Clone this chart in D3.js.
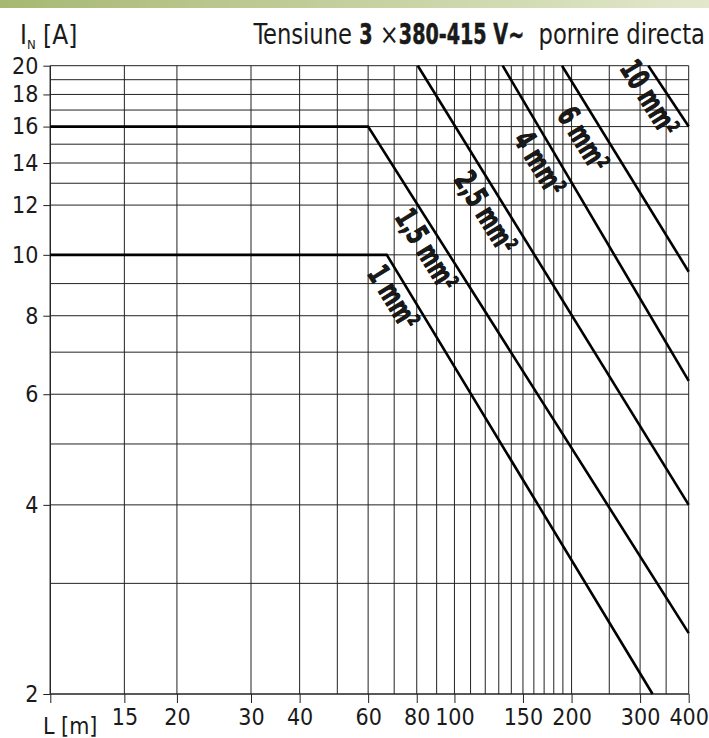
<!DOCTYPE html>
<html><head><meta charset="utf-8">
<script src="https://cdn.jsdelivr.net/npm/d3@7"></script>
<style>
html,body{margin:0;padding:0;background:#fff;}
svg{display:block;}
text{font-family:"DejaVu Sans Condensed","Liberation Sans Narrow","Liberation Sans",sans-serif;fill:#1a1a1a;}
</style></head><body>
<svg id="chart" width="709" height="738"></svg>
<script>
// Cable length L [m] on the x axis, rated current I_N [A] on the y axis (both logarithmic)
const xTickValues = [15, 20, 30, 40, 60, 80, 100, 150, 200, 300, 400];
const xGridValues = [10, 15, 20, 30, 40, 50, 60, 70, 80, 90, 100, 110, 120, 130, 140, 150, 160, 170, 180, 190, 200, 250, 300, 350, 400];
const yTickValues = [2, 4, 6, 8, 10, 12, 14, 16, 18, 20];
const yGridValues = [2, 3, 4, 5, 6, 7, 8, 9, 10, 12, 13, 14, 15, 16, 17, 18, 19, 20];

// Cross-sections and their limit curves as [L, I] points
const sectionNames = ["1 mm²", "1,5 mm²", "2,5 mm²", "4 mm²", "6 mm²", "10 mm²"];
const curve1mm = [[10, 10], [67, 10], [323, 2]];
const curve15mm = [[10, 16], [60, 16], [400, 2.5]];
const curve25mm = [[80.5, 20], [400, 4]];
const curve4mm = [[133, 20], [400, 6.3]];
const curve6mm = [[189, 20], [400, 9.4]];
const curve10mm = [[315, 20], [400, 16]];
const sectionCurves = [curve1mm, curve15mm, curve25mm, curve4mm, curve6mm, curve10mm];
// Where each section name sits, as [L, I]
const labelAnchors = [[69.9, 8.57], [85, 10.2], [120.6, 11.7], [166, 14.0], [215, 15.3], [318, 17.8]];

// Title pieces: [text, bold]
const titleParts = [["Tensiune ", false], ["3", true], [" ×", false], ["380-415 V~", true], ["  pornire directa", false]];

const svg = d3.select("#chart");

// Header band
const defs = svg.append("defs");
const grad = defs.append("linearGradient").attr("id", "band").attr("x1", "0%").attr("x2", "100%");
grad.append("stop").attr("offset", "0%").attr("stop-color", "#a7b872");
grad.append("stop").attr("offset", "100%").attr("stop-color", "#e3e8cc");
svg.append("rect").attr("x", 0).attr("y", 0).attr("width", 709).attr("height", 8).attr("fill", "url(#band)");

const x = d3.scaleLog().domain([10, 30, 400]).range([50.3, 251, 688.7]);
const y = d3.scaleLog().domain([2, 20]).range([694, 65.7]);

// Grid
const grid = svg.append("g").attr("stroke", "#222").attr("stroke-width", 1);
grid.selectAll("line.v").data(xGridValues).join("line").attr("class", "v")
  .attr("x1", d => x(d)).attr("x2", d => x(d)).attr("y1", y(20)).attr("y2", y(2));
grid.selectAll("line.h").data(yGridValues).join("line").attr("class", "h")
  .attr("x1", x(10)).attr("x2", x(400)).attr("y1", d => y(d)).attr("y2", d => y(d));

// Axes
const yAxis = d3.axisLeft(y).tickValues(yTickValues).tickFormat(d3.format("d")).tickSize(7).tickPadding(5);
const gy = svg.append("g").attr("transform", `translate(${x(10)},0)`).call(yAxis);
const xAxis = d3.axisBottom(x).tickValues([10].concat(xTickValues)).tickFormat(d => d === 10 ? "" : d).tickSize(9).tickPadding(6);
const gx = svg.append("g").attr("transform", `translate(0,${y(2)})`).call(xAxis);
[gx, gy].forEach(g => {
  g.select(".domain").attr("stroke", "#222").attr("stroke-width", 1.2);
  g.selectAll(".tick line").attr("stroke", "#222");
  g.selectAll(".tick text").attr("font-size", 23).attr("fill", "#1a1a1a")
    .style("font-family", '"DejaVu Sans Condensed","Liberation Sans Narrow","Liberation Sans",sans-serif');
});
gy.select(".domain").attr("d", `M0,${y(20)}V${y(2)}`);
gx.select(".domain").attr("d", `M${x(10)},0H${x(400)}`);

svg.append("text").attr("x", 43).attr("y", 734).attr("font-size", 23).text("L [m]");

// Section curves
const line = d3.line().x(d => x(d[0])).y(d => y(d[1]));
svg.append("g").selectAll("path").data(sectionCurves).join("path")
  .attr("d", line).attr("fill", "none").attr("stroke", "#000").attr("stroke-width", 2.6)
  .attr("stroke-linejoin", "miter");

// Section names, parallel to the curves, in a heavy condensed style
const angle = Math.atan2(y(1.5) - y(15), x(300) - x(30)) * 180 / Math.PI;
svg.append("g").selectAll("text").data(sectionNames).join("text")
  .attr("transform", (d, i) => `translate(${x(labelAnchors[i][0])},${y(labelAnchors[i][1])}) rotate(${angle}) scale(0.72,1)`)
  .attr("text-anchor", "middle").attr("dy", "0.36em")
  .attr("font-size", 30).attr("font-weight", "bold")
  .attr("fill", "#000").attr("stroke", "#000").attr("stroke-width", 0.8)
  .text(d => d);

// Header: axis unit on the left
const yl = svg.append("text").attr("x", 20).attr("y", 44).attr("font-size", 26);
yl.append("tspan").text("I");
yl.append("tspan").attr("font-size", 13).attr("dy", 5).text("N");
yl.append("tspan").attr("dy", -5).text(" [A]");

// Header: supply title, right aligned, bold parts narrower
const titleG = svg.append("g");
let cursor = 0;
titleParts.forEach(([t, bold]) => {
  const sx = bold ? 0.76 : 0.9;
  const el = titleG.append("text").attr("font-size", 28).attr("y", 0)
    .attr("font-weight", bold ? "bold" : "normal")
    .attr("stroke", bold ? "#1a1a1a" : "none").attr("stroke-width", bold ? 0.5 : 0)
    .style("white-space", "pre").text(t);
  const w = el.node().getComputedTextLength() * sx;
  el.attr("transform", `translate(${cursor},0) scale(${sx},1)`);
  cursor += w;
});
const titleWidth = cursor;
titleG.attr("transform", `translate(${705 - titleWidth},44)`);
</script>
</body></html>
